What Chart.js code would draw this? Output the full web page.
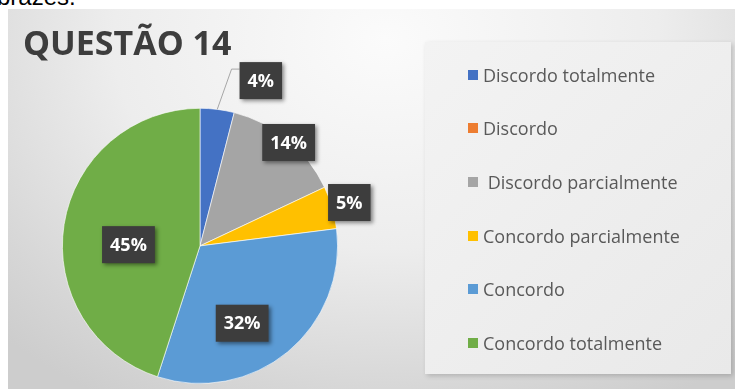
<!DOCTYPE html>
<html lang="pt">
<head>
    <meta charset="UTF-8">
    <title>Questão 14</title>
    <style>
        body { margin: 0; background: #fff; }
        #pagina { position: relative; width: 735px; height: 389px; overflow: hidden; }
        #topo { position: absolute; left: -3px; top: -15px; font: 24px "Liberation Sans", Arial, sans-serif; color: #000; line-height: 24px; }
        #caixa { position: absolute; left: 8px; top: 9px; width: 727px; height: 380px;
                 background: radial-gradient(ellipse 75% 110% at 52% 8%, #fbfbfb 0%, #ededed 50%, #d6d6d6 85%, #cdcdcd 100%); }
        #painel { position: absolute; left: 425px; top: 42px; width: 306px; height: 332px;
                  background: linear-gradient(135deg, #f3f3f3, #e9e9e9); box-shadow: 2px 2px 5px rgba(0,0,0,0.18); }
        #grafico { position: absolute; left: 0; top: 0; }
        #legenda { position: absolute; left: 468px; top: 48px; font: 18px "Open Sans", sans-serif; color: #595959; }
        #legenda div { height: 53.6px; display: flex; align-items: center; white-space: pre; }
        #legenda span.q { display: inline-block; width: 10px; height: 10px; margin-right: 5px; }
    </style>
</head>
<body>
<div id="pagina">
    <div id="topo">brazes.</div>
    <div id="caixa"></div>
    <div id="painel"></div>
    <canvas id="grafico" width="735" height="389"></canvas>
    <div id="legenda"></div>
</div>

<script src="https://cdn.jsdelivr.net/npm/chart.js"></script>
<script>
    // dados
    const categorias = ['Discordo totalmente', 'Discordo', ' Discordo parcialmente', 'Concordo parcialmente', 'Concordo', 'Concordo totalmente'];
    const valores = [4, 0, 14, 5, 32, 45];
    const cores = ['#4472C4', '#ED7D31', '#A5A5A5', '#FFC000', '#5B9BD5', '#70AD47'];

    // posição dos rótulos (fração do raio, desvio em graus)
    const posRotulo = [{r: 1.28, a: 13}, null, {r: 0.99, a: 1}, {r: 1.13, a: 0}, {r: 0.64, a: 11}, {r: 0.52, a: -8}];

    const rotulos = {
        id: 'rotulos',
        afterDatasetsDraw(chart) {
            const ctx = chart.ctx;
            const meta = chart.getDatasetMeta(0);
            meta.data.forEach((arc, i) => {
                if (!valores[i] || !posRotulo[i]) return;
                const p = arc.getProps(['x', 'y', 'startAngle', 'endAngle', 'outerRadius'], true);
                const meio = (p.startAngle + p.endAngle) / 2;
                const ang = meio + posRotulo[i].a * Math.PI / 180;
                const lx = p.x + Math.cos(ang) * p.outerRadius * posRotulo[i].r;
                const ly = p.y + Math.sin(ang) * p.outerRadius * posRotulo[i].r;
                const texto = valores[i] + '%';

                ctx.save();
                ctx.font = 'bold 18px "Open Sans", sans-serif';
                const w = ctx.measureText(texto).width + 16;
                const h = 37;
                const bx = lx - w / 2, by = ly - h / 2;

                // linha de chamada para rótulos afastados
                if (posRotulo[i].r > 1.2) {
                    ctx.strokeStyle = '#a6a6a6';
                    ctx.lineWidth = 1;
                    ctx.beginPath();
                    ctx.moveTo(p.x + Math.cos(meio) * p.outerRadius, p.y + Math.sin(meio) * p.outerRadius);
                    ctx.lineTo(bx - 8, by + 7);
                    ctx.lineTo(bx, by + 7);
                    ctx.stroke();
                }

                ctx.shadowColor = 'rgba(0,0,0,0.45)';
                ctx.shadowBlur = 4;
                ctx.shadowOffsetX = 2;
                ctx.shadowOffsetY = 2;
                ctx.fillStyle = '#3d3d3d';
                ctx.fillRect(bx, by, w, h);
                ctx.shadowColor = 'transparent';
                ctx.fillStyle = '#ffffff';
                ctx.textAlign = 'center';
                ctx.textBaseline = 'middle';
                ctx.fillText(texto, lx, ly + 1);
                ctx.restore();
            });
        }
    };

    const grafico = new Chart(document.getElementById('grafico'), {
        type: 'pie',
        data: {
            labels: categorias,
            datasets: [{
                data: valores,
                backgroundColor: cores,
                borderColor: 'rgba(255,255,255,0.6)',
                borderWidth: 1
            }]
        },
        options: {
            responsive: false,
            animation: false,
            devicePixelRatio: 1,
            layout: { padding: { left: 23, right: 358, top: 0, bottom: 5 } },
            plugins: {
                legend: { display: false },
                tooltip: { enabled: false },
                title: {
                    display: true,
                    text: 'QUESTÃO 14',
                    align: 'start',
                    color: '#3d3d3d',
                    font: { family: '"Open Sans", sans-serif', size: 34, weight: 'bold' },
                    padding: { top: 25, bottom: 42 }
                }
            }
        },
        plugins: [rotulos]
    });

    // legenda em HTML
    const legenda = document.getElementById('legenda');
    categorias.forEach((nome, i) => {
        const linha = document.createElement('div');
        const q = document.createElement('span');
        q.className = 'q';
        q.style.background = cores[i];
        linha.appendChild(q);
        linha.appendChild(document.createTextNode(nome));
        legenda.appendChild(linha);
    });
</script>
</body>
</html>
